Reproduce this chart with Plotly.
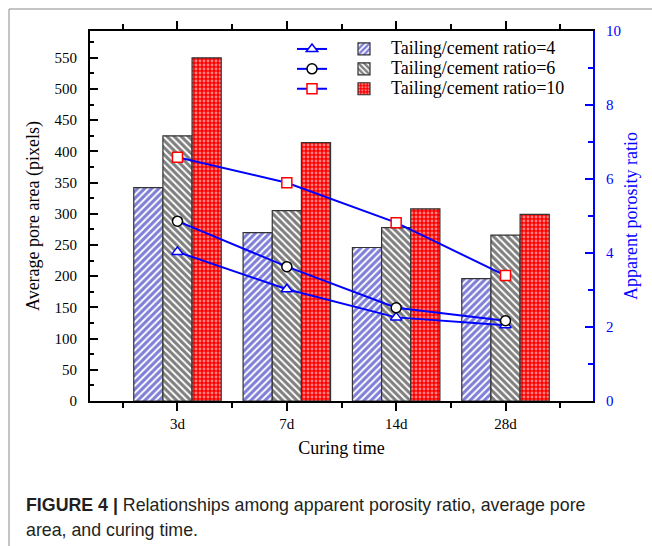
import plotly.graph_objects as go

categories = ["3d", "7d", "14d", "28d"]
series_names = ["Tailing/cement ratio=4", "Tailing/cement ratio=6", "Tailing/cement ratio=10"]
pore_area_r4 = [342, 270, 246, 196]
pore_area_r6 = [425, 305, 278, 266]
pore_area_r10 = [550, 414, 308, 299]
porosity_r4 = [4.03, 3.02, 2.26, 2.05]
porosity_r6 = [4.86, 3.63, 2.52, 2.17]
porosity_r10 = [6.59, 5.90, 4.82, 3.39]
left_ticks = list(range(0, 551, 50))
right_ticks = [0, 2, 4, 6, 8, 10]

xpos = list(range(len(categories)))
SERIF = "Liberation Serif"
BLUE = "#0000ff"

fig = go.Figure()

line_specs = [
    (porosity_r4, "triangle-up", BLUE),
    (porosity_r6, "circle", "#000000"),
    (porosity_r10, "square", "#ff0000"),
]
bar_specs = [
    (pore_area_r4, dict(shape="/", fgcolor="#0000b0", bgcolor="white", size=5, solidity=0.62)),
    (pore_area_r6, dict(shape="\\", fgcolor="#000000", bgcolor="white", size=5, solidity=0.62)),
    (pore_area_r10, dict(shape=".", fgcolor="white", bgcolor="#ff0000", size=4, solidity=0.4)),
]
for (vals, pat), name in zip(bar_specs, series_names):
    fig.add_trace(go.Bar(
        x=xpos, y=vals, name="", legend="legend2",
        marker=dict(color=pat["bgcolor"], pattern=pat, line=dict(color="#333333", width=1.2)),
    ))
for (vals, sym, mcol), name in zip(line_specs, series_names):
    fig.add_trace(go.Scatter(
        x=xpos, y=vals, yaxis="y2", mode="lines+markers", name="", legend="legend",
        line=dict(color=BLUE, width=2),
        marker=dict(symbol=sym, size=10, color="white", line=dict(color=mcol, width=1.5)),
    ))

W, H = 652, 546
L, R, T, B = 90, 593, 31, 401
pw, ph = R - L, B - T
def px(x):
    return (x - L) / pw
def py(y):
    return (B - y) / ph

tf = dict(family=SERIF, size=15, color="black")

fig.update_layout(
    width=W, height=H,
    margin=dict(l=L, r=W - R, t=T, b=H - B),
    paper_bgcolor="white", plot_bgcolor="white",
    font=dict(family=SERIF, size=15, color="black"),
    barmode="group", bargap=0.2, bargroupgap=0,
    xaxis=dict(
        range=[-0.8, 3.8], tickmode="array", tickvals=xpos, ticktext=categories,
        showline=True, linecolor="black", linewidth=2, mirror="ticks",
        ticks="outside", ticklen=8, tickwidth=1.5, tickcolor="black",
        minor=dict(tickmode="array", tickvals=[-0.5, 0.5, 1.5, 2.5, 3.5], ticks="outside", ticklen=5, tickwidth=1.5, tickcolor="black"),
        showgrid=False, zeroline=False, ticklabelstandoff=0,
        tickfont=tf,
        title=dict(text="Curing time", font=dict(family=SERIF, size=18), standoff=10),
    ),
    yaxis=dict(
        range=[0, 593], tickmode="array", tickvals=left_ticks,
        showline=True, linecolor="black", linewidth=2,
        ticks="inside", ticklen=8, tickwidth=1.5, tickcolor="black",
        minor=dict(dtick=25, tick0=0, ticks="inside", ticklen=4, tickwidth=1.5, tickcolor="black"),
        showgrid=False, zeroline=False, ticklabelstandoff=8,
        tickfont=tf,
        title=dict(text="Average pore area (pixels)", font=dict(family=SERIF, size=18), standoff=10),
    ),
    yaxis2=dict(
        range=[0, 10], tickmode="array", tickvals=right_ticks, overlaying="y", side="right",
        showline=True, linecolor=BLUE, linewidth=2,
        ticks="inside", ticklen=8, tickwidth=1.5, tickcolor=BLUE,
        minor=dict(dtick=1, tick0=0, ticks="inside", ticklen=5, tickwidth=1.5, tickcolor=BLUE),
        showgrid=False, zeroline=False, ticklabelstandoff=8,
        tickfont=dict(family=SERIF, size=15, color=BLUE),
        title=dict(text="Apparent porosity ratio", font=dict(family=SERIF, size=18, color=BLUE), standoff=4),
    ),
    legend=dict(x=px(292), y=py(34), xanchor="left", yanchor="top", bgcolor="rgba(0,0,0,0)",
                font=dict(family=SERIF, size=13), itemwidth=30, tracegroupgap=0, traceorder="normal"),
    legend2=dict(x=px(344), y=py(34), xanchor="left", yanchor="top", bgcolor="rgba(0,0,0,0)",
                 font=dict(family=SERIF, size=13), tracegroupgap=0, traceorder="normal"),
    showlegend=True,
)

# legend labels
for i, name in enumerate(series_names):
    fig.add_annotation(xref="paper", yref="paper", x=px(389), y=py(48 + 20 * i),
                       xanchor="left", yanchor="middle", showarrow=False,
                       text=name, font=dict(family=SERIF, size=18, color="black"))

fig.add_shape(type="rect", xref="paper", yref="paper",
              x0=px(9), x1=px(700), y0=py(620), y1=py(9),
              line=dict(color="#8a8a8a", width=1), fillcolor="rgba(0,0,0,0)", layer="below")

CAP = "Liberation Sans"
fig.add_annotation(xref="paper", yref="paper", x=px(24), y=py(505), xanchor="left", yanchor="middle",
                   showarrow=False, align="left",
                   text="<b>FIGURE 4 |</b> Relationships among apparent porosity ratio, average pore",
                   font=dict(family=CAP, size=17.8, color="#231f20"))
fig.add_annotation(xref="paper", yref="paper", x=px(24), y=py(530), xanchor="left", yanchor="middle",
                   showarrow=False, align="left",
                   text="area, and curing time.",
                   font=dict(family=CAP, size=17.8, color="#231f20"))

fig.write_html("out.html")
